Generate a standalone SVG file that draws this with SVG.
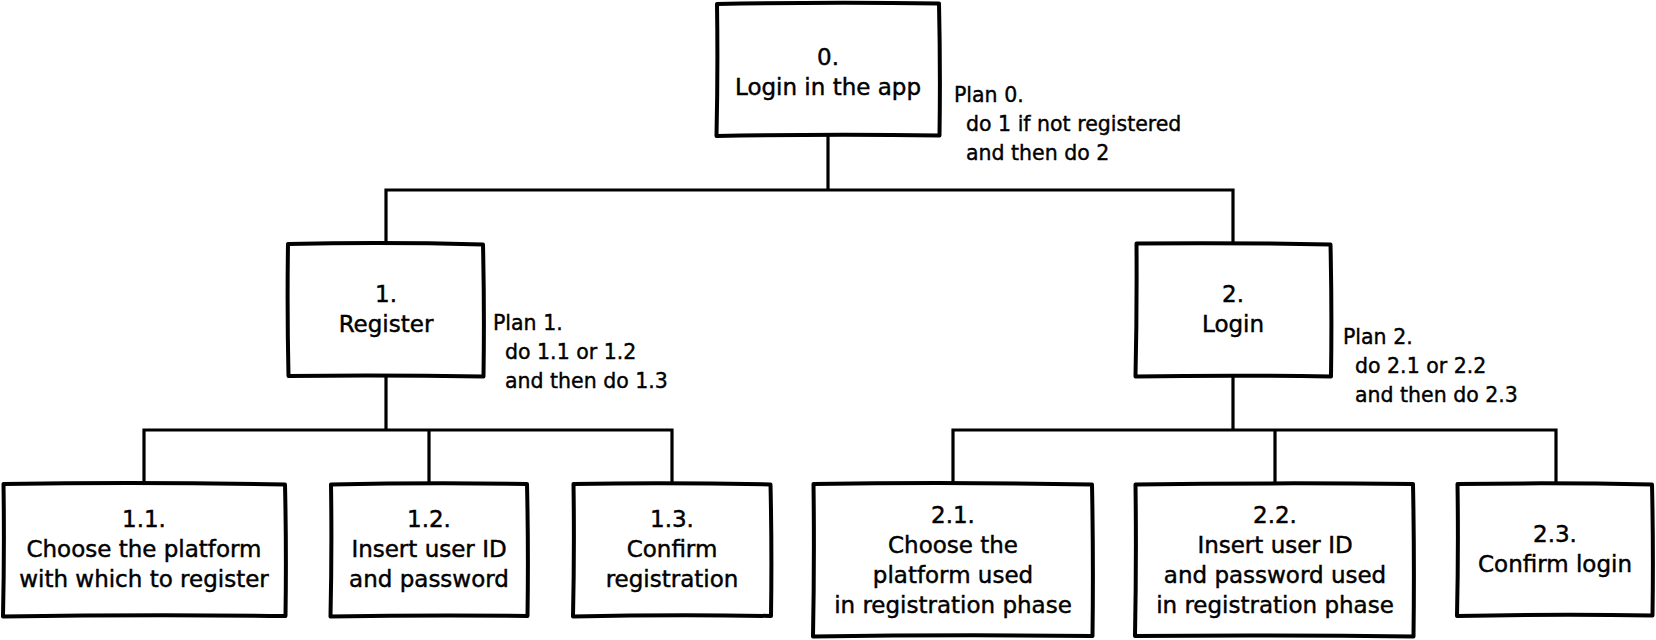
<svg xmlns="http://www.w3.org/2000/svg" width="1656" height="640" viewBox="0 0 1656 640">
<style>
.box{fill:#ffffff;stroke:#000000;stroke-width:4;stroke-linejoin:round;stroke-linecap:round}
.con{fill:none;stroke:#000000;stroke-width:3.2;stroke-linejoin:miter;stroke-linecap:square}
.t{font-family:"DejaVu Sans","Liberation Sans",sans-serif;font-size:23px;fill:#000000;stroke:#000000;stroke-width:0.45;text-anchor:middle}
.p{font-family:"DejaVu Sans","Liberation Sans",sans-serif;font-size:20.5px;fill:#000000;stroke:#000000;stroke-width:0.4}
</style>
<rect width="1656" height="640" fill="#ffffff"/>
<g id="connectors">
<path class="con" d="M828 136 V190 M386 190 H1233 M386 190 V243 M1233 190 V243"/>
<path class="con" d="M386 377 V430 M144 430 H672 M144 430 V483 M429 430 V483 M672 430 V483"/>
<path class="con" d="M1233 377 V430 M953 430 H1556 M953 430 V483 M1275 430 V483 M1556 430 V483"/>
</g>
<g id="n0">
<path class="box" d="M717 4 Q828 2 939 3.5 Q940.5 70 939.5 135.5 Q828 134 716.5 136 Q718 70 717 4 Z"/>
<text class="t" x="828" y="65">0.</text>
<text class="t" x="828" y="95">Login in the app</text>
</g>
<g id="plan0">
<text class="p" x="954" y="102">Plan 0.</text>
<text class="p" x="966" y="131">do 1 if not registered</text>
<text class="p" x="966" y="160">and then do 2</text>
</g>
<g id="n1">
<path class="box" d="M288 244 Q386 242 483 244.5 Q484.5 310 483.5 376.5 Q386 375 288.5 376 Q287 310 288 244 Z"/>
<text class="t" x="386" y="302">1.</text>
<text class="t" x="386" y="332">Register</text>
</g>
<g id="plan1">
<text class="p" x="493" y="330">Plan 1.</text>
<text class="p" x="505" y="359">do 1.1 or 1.2</text>
<text class="p" x="505" y="388">and then do 1.3</text>
</g>
<g id="n2">
<path class="box" d="M1136.5 243.5 Q1233 242.5 1330.5 244.5 Q1332 310 1331 376.5 Q1233 375 1135.5 376.5 Q1137 310 1136.5 243.5 Z"/>
<text class="t" x="1233" y="302">2.</text>
<text class="t" x="1233" y="332">Login</text>
</g>
<g id="plan2">
<text class="p" x="1343" y="344">Plan 2.</text>
<text class="p" x="1355" y="373">do 2.1 or 2.2</text>
<text class="p" x="1355" y="402">and then do 2.3</text>
</g>
<g id="n11">
<path class="box" d="M3.5 484 Q144 482 285 484.5 Q286.5 550 285.5 616 Q144 614.5 3 616.5 Q4.5 550 3.5 484 Z"/>
<text class="t" x="144" y="527">1.1.</text>
<text class="t" x="144" y="557">Choose the platform</text>
<text class="t" x="144" y="587">with which to register</text>
</g>
<g id="n12">
<path class="box" d="M331 484.5 Q429 482.5 527 484 Q528.5 550 527.5 616 Q429 615 330.5 616.5 Q332 550 331 484.5 Z"/>
<text class="t" x="429" y="527">1.2.</text>
<text class="t" x="429" y="557">Insert user ID</text>
<text class="t" x="429" y="587">and password</text>
</g>
<g id="n13">
<path class="box" d="M573.5 484 Q672 482.5 770.5 484.5 Q772 550 771 616 Q672 614.5 573 616.5 Q574.5 550 573.5 484 Z"/>
<text class="t" x="672" y="527">1.3.</text>
<text class="t" x="672" y="557">Confirm</text>
<text class="t" x="672" y="587">registration</text>
</g>
<g id="n21">
<path class="box" d="M813.5 484 Q953 482 1092 484.5 Q1093.5 560 1092.5 636 Q953 634.5 813 636.5 Q814.5 560 813.5 484 Z"/>
<text class="t" x="953" y="523">2.1.</text>
<text class="t" x="953" y="553">Choose the</text>
<text class="t" x="953" y="583">platform used</text>
<text class="t" x="953" y="613">in registration phase</text>
</g>
<g id="n22">
<path class="box" d="M1135.5 484.5 Q1275 482.5 1413 484 Q1414.5 560 1413.5 636.5 Q1275 635 1135 636 Q1136.5 560 1135.5 484.5 Z"/>
<text class="t" x="1275" y="523">2.2.</text>
<text class="t" x="1275" y="553">Insert user ID</text>
<text class="t" x="1275" y="583">and password used</text>
<text class="t" x="1275" y="613">in registration phase</text>
</g>
<g id="n23">
<path class="box" d="M1457.5 484 Q1555 482.5 1652 484.5 Q1653.5 550 1652.5 615.5 Q1555 614 1457 616 Q1458.5 550 1457.5 484 Z"/>
<text class="t" x="1555" y="542">2.3.</text>
<text class="t" x="1555" y="572">Confirm login</text>
</g>
</svg>
